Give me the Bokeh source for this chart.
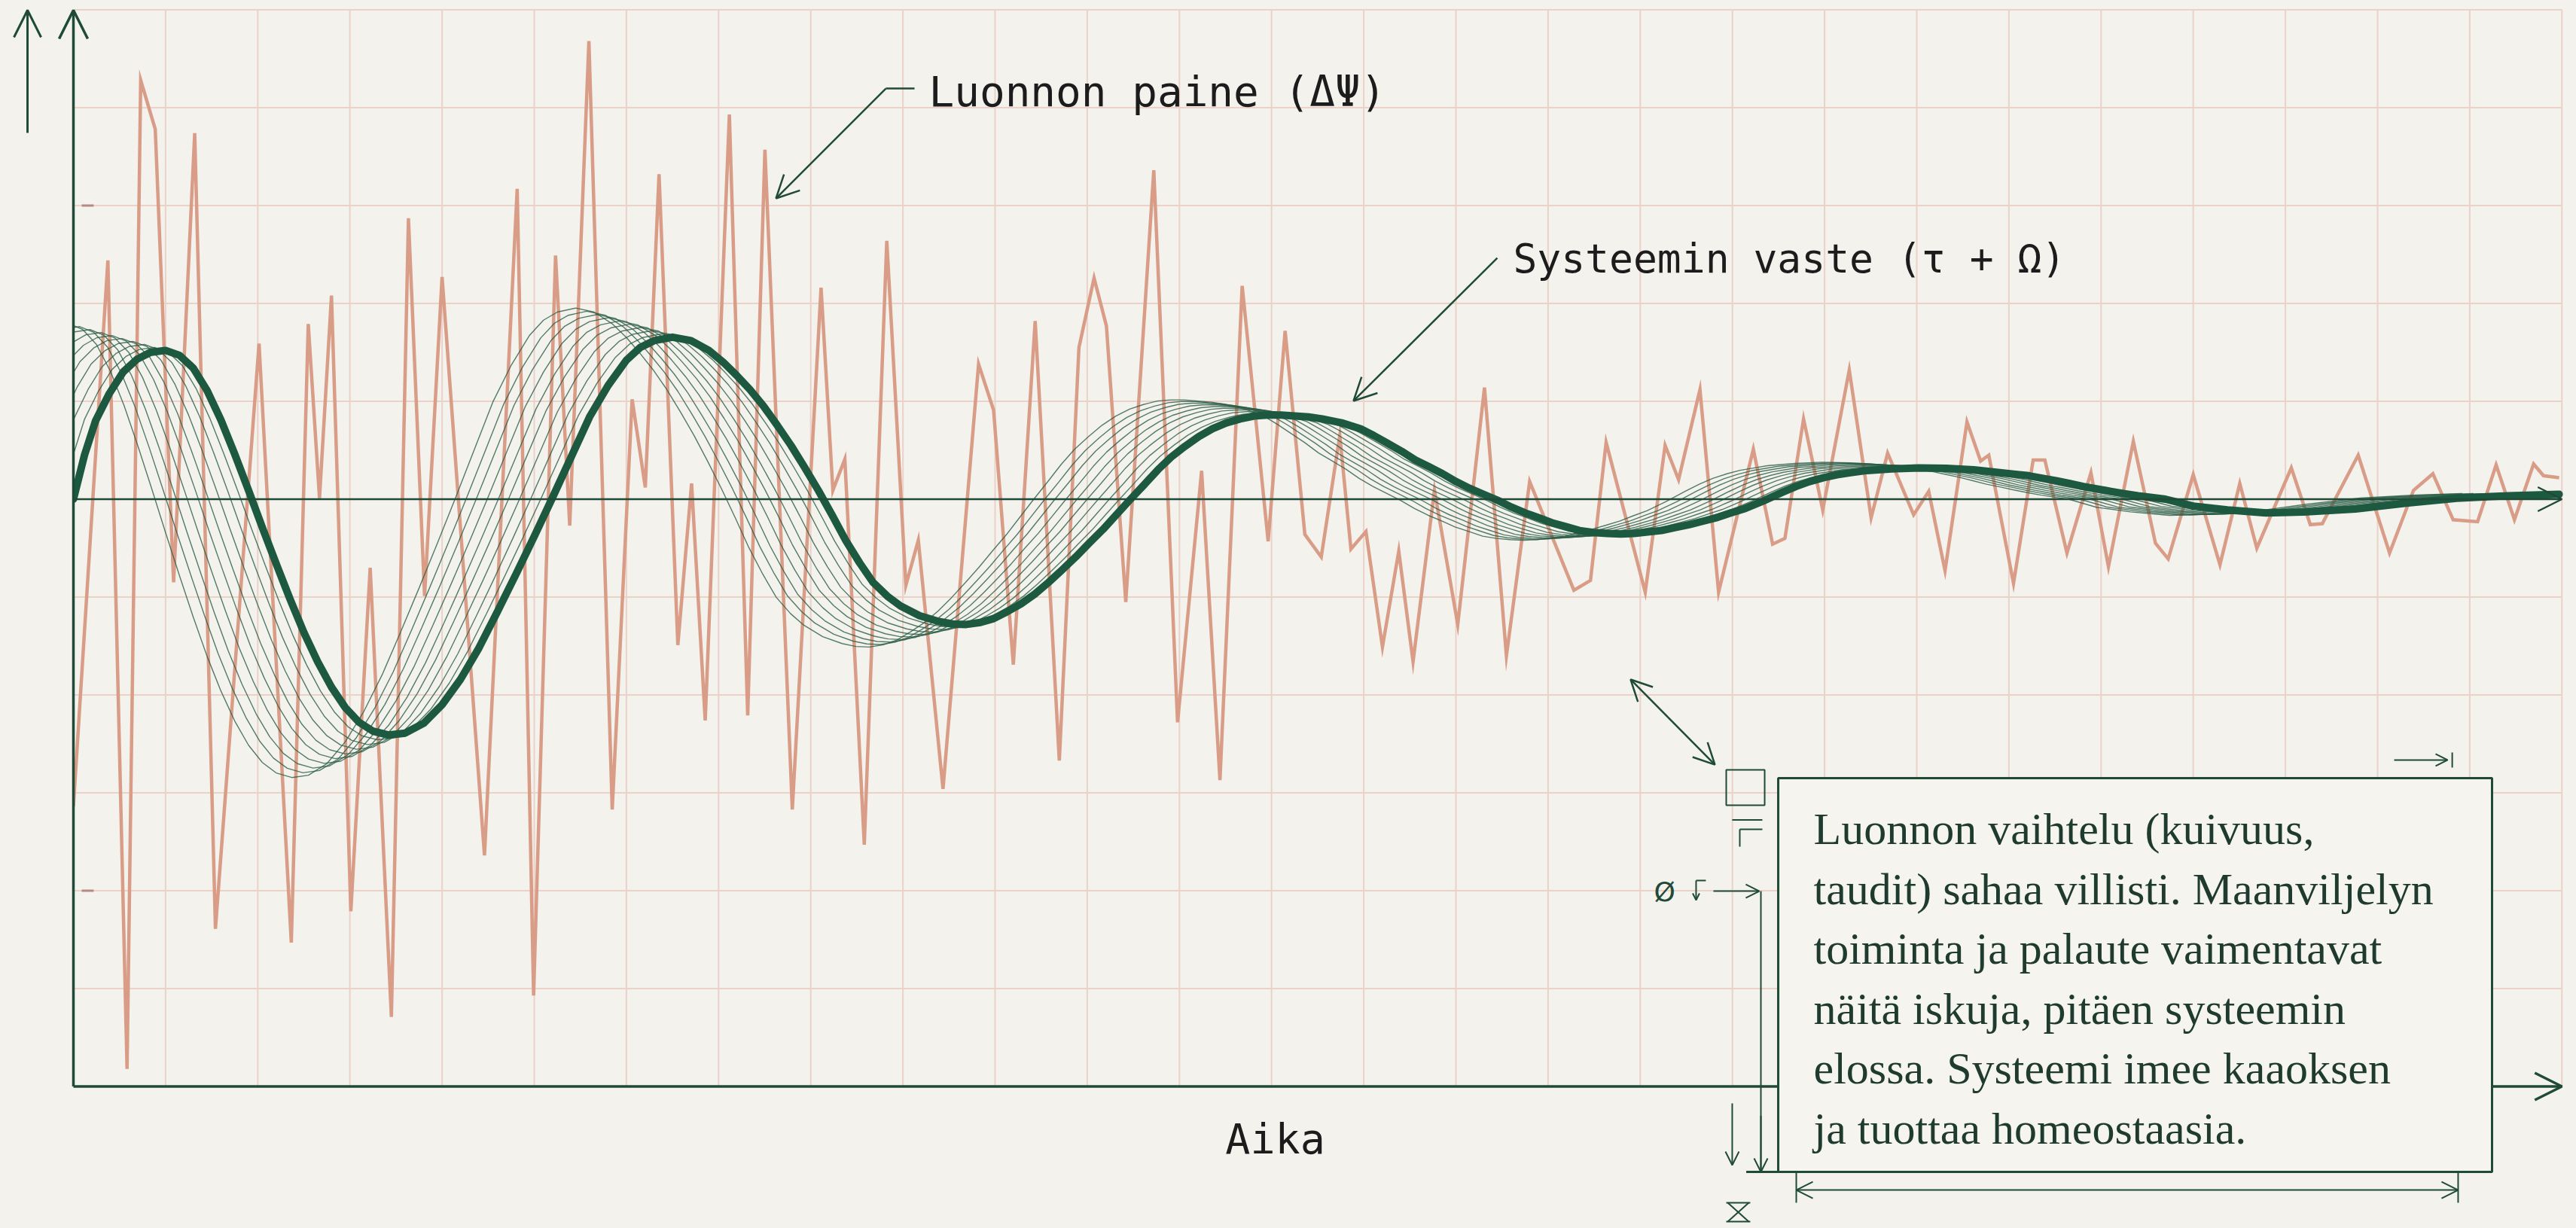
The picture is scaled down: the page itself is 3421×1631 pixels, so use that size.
from bokeh.plotting import figure
from bokeh.models import Range1d, Arrow, OpenHead, Label, ColumnDataSource
from bokeh.core.properties import value
from bokeh.embed import file_html
from bokeh.resources import INLINE

# ---------------- data (time and value in grid units) ----------------
noise_t = [0.0, 0.374, 0.582, 0.73, 0.888, 1.087, 1.316, 1.541, 2.014, 2.364, 2.548, 2.67, 2.80,
           3.01, 3.22, 3.45, 3.635, 3.81, 4.00, 4.46, 4.815, 4.993, 5.231, 5.385, 5.593, 5.846,
           6.062, 6.205, 6.354, 6.558, 6.707, 6.855, 7.117, 7.316, 7.503, 7.80, 8.112, 8.24,
           8.37, 8.581, 8.825, 9.032, 9.167, 9.435, 9.821, 9.984, 10.198, 10.435, 10.697,
           10.91, 11.074, 11.208, 11.418, 11.722, 11.98, 12.241, 12.44, 12.681, 12.963,
           13.147, 13.361, 13.539, 13.74, 13.861, 14.024, 14.203, 14.38, 14.535, 14.767,
           15.02, 15.31, 15.548, 15.80, 16.28, 16.46, 16.63, 17.054, 17.27, 17.416, 17.648,
           17.85, 18.227, 18.436, 18.57, 18.772, 18.98, 19.268, 19.505, 19.684, 19.966,
           20.13, 20.307, 20.545, 20.693, 20.782, 21.05, 21.263, 21.39, 21.63, 21.89, 22.08,
           22.35, 22.59, 22.728, 23.0, 23.29, 23.505, 23.69, 24.064, 24.27, 24.4, 24.79,
           25.13, 25.39, 25.6, 25.82, 26.085, 26.286, 26.485, 26.693, 26.8, 26.97]
noise_v = [-3.14, 2.44, -5.82, 4.28, 3.78, -0.85, 3.74, -4.39, 1.59, -4.53, 1.79, 0.01, 2.08,
           -4.21, -0.70, -5.29, 2.87, -0.99, 2.27, -3.64, 3.17, -5.07, 2.49, -0.27, 4.68, -3.17,
           1.02, 0.12, 3.32, -1.49, 0.16, -2.26, 3.93, -2.21, 3.57, -3.17, 2.16, 0.09,
           0.41, -3.53, 2.64, -0.88, -0.42, -2.96, 1.38, 0.91, -1.69, 1.82, -2.67,
           1.55, 2.26, 1.77, -1.05, 3.36, -2.28, 0.29, -2.87, 2.18, -0.43,
           1.72, -0.36, -0.59, 0.65, -0.51, -0.33, -1.51, -0.53, -1.66, 0.09,
           -1.28, 1.14, -1.60, 0.18, -0.93, -0.83, 0.58, -0.95, 0.55, 0.20, 1.12,
           -0.95, 0.51, -0.46, -0.40, 0.82, -0.11, 1.32, -0.19, 0.47, -0.16,
           0.08, -0.73, 0.79, 0.39, 0.45, -0.86, 0.40, 0.40, -0.55, 0.27, -0.69,
           0.59, -0.45, -0.61, 0.25, -0.67, 0.16, -0.50, 0.32, -0.26, -0.25, 0.45,
           -0.55, 0.09, 0.26, -0.21, -0.23, 0.35, -0.21, 0.36, 0.24, 0.22]

response_t = [0.0, 0.12, 0.24, 0.39, 0.54, 0.69, 0.835, 1.0, 1.15, 1.3, 1.45, 1.6, 1.75, 1.9,
              2.05, 2.2, 2.35, 2.5, 2.65, 2.8, 2.95, 3.1, 3.25, 3.42, 3.6, 3.8, 4.0, 4.2, 4.4,
              4.6, 4.8, 5.0, 5.19, 5.4, 5.6, 5.8, 6.0, 6.15, 6.3, 6.5, 6.7, 6.894, 7.05, 7.19,
              7.34, 7.488, 7.64, 7.785, 7.93, 8.082, 8.23, 8.379, 8.53, 8.676, 8.83, 8.973,
              9.18, 9.39, 9.54, 9.687, 9.84, 9.984, 10.13, 10.28, 10.43, 10.58, 10.73, 10.875,
              11.02, 11.17, 11.32, 11.47, 11.62, 11.766, 11.91, 12.06, 12.21, 12.36, 12.51,
              12.66, 12.81, 12.954, 13.1, 13.25, 13.4, 13.55, 13.76, 13.965, 14.11, 14.26,
              14.41, 14.56, 14.71, 14.856, 15.0, 15.15, 15.3, 15.45, 15.6, 15.75, 15.9, 16.04,
              16.19, 16.34, 16.49, 16.64, 16.79, 16.935, 17.08, 17.232, 17.38, 17.53, 17.68,
              17.826, 17.97, 18.123, 18.33, 18.54, 18.69, 18.837, 18.99, 19.134, 19.28, 19.43,
              19.58, 19.73, 20.025, 20.32, 20.62, 20.92, 21.07, 21.213, 21.36, 21.51, 21.66,
              21.807, 21.96, 22.104, 22.25, 22.4, 22.55, 22.698, 23.0, 23.37, 23.79, 24.2,
              24.76, 25.31, 25.86, 26.42, 26.97]
response_v = [0.0, 0.45, 0.80, 1.08, 1.30, 1.43, 1.50, 1.52, 1.47, 1.34, 1.11, 0.81, 0.46, 0.09,
              -0.29, -0.66, -1.02, -1.36, -1.66, -1.92, -2.13, -2.28, -2.37, -2.41, -2.39, -2.29,
              -2.10, -1.84, -1.52, -1.15, -0.77, -0.38, 0.0, 0.43, 0.84, 1.16, 1.42, 1.55, 1.62,
              1.655, 1.62, 1.52, 1.40, 1.27, 1.12, 0.95, 0.75, 0.55, 0.33, 0.09, -0.16, -0.42,
              -0.65, -0.85, -0.99, -1.09, -1.19, -1.25, -1.275, -1.28, -1.26, -1.22, -1.15,
              -1.07, -0.97, -0.85, -0.72, -0.59, -0.45, -0.31, -0.155, 0.0, 0.15, 0.30, 0.43,
              0.54, 0.64, 0.72, 0.78, 0.82, 0.85, 0.86, 0.86, 0.85, 0.84, 0.82, 0.78, 0.72,
              0.65, 0.57, 0.49, 0.40, 0.33, 0.26, 0.18, 0.11, 0.05, -0.01, -0.08, -0.14, -0.19,
              -0.24, -0.28, -0.32, -0.34, -0.35, -0.355, -0.35, -0.335, -0.32, -0.29, -0.26,
              -0.225, -0.19, -0.145, -0.10, -0.02, 0.07, 0.13, 0.18, 0.22, 0.25, 0.27, 0.29,
              0.30, 0.31, 0.32, 0.315, 0.30, 0.27, 0.255, 0.24, 0.215, 0.19, 0.16, 0.13, 0.105,
              0.08, 0.057, 0.035, 0.017, 0.0, -0.07, -0.11, -0.14, -0.13, -0.10, -0.04, 0.01,
              0.035, 0.05]

# leading "echo" traces of the response: time lead and amplitude gain
echo_lead = [0.12, 0.23, 0.35, 0.47, 0.58, 0.70, 0.82, 0.93, 1.05]
echo_gain = [1.02, 1.04, 1.06, 1.08, 1.10, 1.12, 1.14, 1.16, 1.18]

label_noise = "Luonnon paine (ΔΨ)"
label_resp = "Systeemin vaste (τ + Ω)"
label_x = "Aika"
note_lines = ["Luonnon vaihtelu (kuivuus,",
              "taudit) sahaa villisti. Maanviljelyn",
              "toiminta ja palaute vaimentavat",
              "näitä iskuja, pitäen systeemin",
              "elossa. Systeemi imee kaaoksen",
              "ja tuottaa homeostaasia."]

grid_t = list(range(1, 28))
grid_v = [-5, -4, -3, -2, -1, 1, 2, 3, 4, 5]
axis_marks = [3, -4]

# ---------------- style ----------------
BG = "#f3f2ed"
GRID = "#ebd2c8"
RED = "#d99c87"
GREEN = "#1d5940"
AX = "#1f4a38"
INK = "#1c1c1c"
MONO = "DejaVu Sans Mono"

X0, X1 = -0.7925, 27.157
Y0, Y1 = -7.45, 5.0962

p = figure(width=3421, height=1631, output_backend="svg", toolbar_location=None,
           x_range=Range1d(X0, X1), y_range=Range1d(Y0, Y1),
           x_axis_location=None, y_axis_location=None, min_border=0, title=None,
           outline_line_color=None, background_fill_color=BG, border_fill_color=BG)
p.grid.visible = False

# grid
p.multi_line([[t, t] for t in grid_t], [[-6, 5] for _ in grid_t], line_color=GRID, line_width=2)
p.multi_line([[0, 27] for _ in grid_v], [[v, v] for v in grid_v], line_color=GRID, line_width=2)

# noise
p.line(noise_t, noise_v, line_color=RED, line_width=4.5, line_join="miter")

# echo traces (only the part that lies inside the visible frame)
for lead, gain in zip(echo_lead, echo_gain):
    pts = [(t - lead, gain * v) for t, v in zip(response_t, response_v) if t - lead > X0 + 0.1]
    p.line([a for a, _ in pts], [b for _, b in pts],
           line_color="#2b5c46", line_width=1.4, line_alpha=0.8)

# main response
p.line(response_t, response_v, line_color=GREEN, line_width=10, line_join="round", line_cap="round")

# cover left of y-axis
p.quad(left=[X0 - 1], right=[0], bottom=[Y0 - 1], top=[Y1 + 1], fill_color=BG, line_color=None)

def arrow(x0, y0, x1, y1, size=30, lw=3, both=False, color=AX):
    head = lambda: OpenHead(size=size, line_color=color, line_width=lw)
    a = Arrow(end=head(), start=head() if both else None, x_start=x0, y_start=y0,
              x_end=x1, y_end=y1, line_color=color, line_width=lw)
    p.add_layout(a)

# axes
arrow(0, -6, 0, 4.996, size=38, lw=3.5)
arrow(0, -6, 27.0, -6, size=36, lw=3.5)
arrow(0, 0, 27.0, 0, size=32, lw=2.5)
arrow(-0.498, 3.742, -0.498, 4.996, size=36, lw=3)
p.segment(x0=[0.09] * len(axis_marks), y0=axis_marks, x1=[0.22] * len(axis_marks), y1=axis_marks,
          line_color="#b48b80", line_width=3)

# leaders
p.segment(x0=[9.126], y0=[4.196], x1=[8.815], y1=[4.196], line_color=AX, line_width=2.5)
arrow(8.815, 4.196, 7.623, 3.073, size=30, lw=2.5)
arrow(15.449, 2.465, 13.889, 1.004, size=30, lw=2.5)
arrow(16.895, -1.842, 17.81, -2.712, size=28, lw=2.5, both=True)

# labels
p.add_layout(Label(x=9.281, y=4.165, text=label_noise, text_font=MONO, text_font_size="56px",
                   text_color=INK, text_baseline="alphabetic"))
p.add_layout(Label(x=15.62, y=2.458, text=label_resp, text_font=MONO, text_font_size="53px",
                   text_color=INK, text_baseline="alphabetic"))
p.add_layout(Label(x=13.04, y=-6.542, text=label_x, text_font=MONO, text_font_size="55px",
                   text_color=INK, text_baseline="alphabetic", text_align="center"))

# note box (drawn above the axis line)
box = p.quad(left=[18.497], right=[26.242], bottom=[-6.873], top=[-2.85], fill_color="#f5f4ef",
             line_color=AX, line_width=3)
box.level = "overlay"
src = ColumnDataSource(dict(text=note_lines, x=[18.881] * len(note_lines),
                            y=[-3.37 - 0.6115 * i for i in range(len(note_lines))]))
txt = p.text(x="x", y="y", text="text", source=src, text_font=value("Liberation Serif"),
             text_font_size="60px", text_color="#1f3a2e", text_baseline="alphabetic")
txt.level = "overlay"

# box decorations
p.quad(left=[17.933], right=[18.350], bottom=[-3.127], top=[-2.765], fill_color=None,
       line_color=AX, line_width=2)
p.multi_line([[17.998, 18.325], [18.08, 18.325], [18.08, 18.08]],
             [[-3.277, -3.277], [-3.373, -3.373], [-3.373, -3.55]], line_color=AX, line_width=2)
p.add_layout(Label(x=17.149, y=-4.008, text="Ø", text_font="DejaVu Sans", text_font_size="36px",
                   text_color=AX, text_baseline="alphabetic"))
p.segment(x0=[17.606], y0=[-3.896], x1=[17.712], y1=[-3.896], line_color=AX, line_width=2)
arrow(17.606, -3.896, 17.606, -4.096, size=9, lw=2)
arrow(17.794, -4.004, 18.292, -4.004, size=18, lw=2)
p.segment(x0=[18.309], y0=[-4.004], x1=[18.309], y1=[-6.873], line_color=AX, line_width=2)
arrow(18.309, -6.3, 18.309, -6.873, size=18, lw=2)
arrow(17.998, -6.173, 17.998, -6.804, size=18, lw=2)
p.segment(x0=[18.15], y0=[-6.873], x1=[18.497], y1=[-6.873], line_color=AX, line_width=3)
arrow(18.693, -7.058, 25.874, -7.058, size=22, lw=2, both=True)
p.multi_line([[18.693, 18.693], [25.874, 25.874]], [[-6.881, -7.188], [-6.881, -7.188]],
             line_color=AX, line_width=2)
p.multi_line([[17.933, 18.194], [17.933, 18.194], [17.95, 18.177], [18.177, 17.95]],
             [[-7.188, -7.188], [-7.381, -7.381], [-7.188, -7.381], [-7.188, -7.381]],
             line_color=AX, line_width=2)
arrow(25.18, -2.665, 25.76, -2.665, size=16, lw=2)
p.segment(x0=[25.81], y0=[-2.588], x1=[25.81], y1=[-2.742], line_color=AX, line_width=2)

html = file_html(p, INLINE)
html = html.replace("</head>", "<style>html,body{background:%s;margin:0;}</style></head>" % BG, 1)
open("out.html", "w").write(html)
